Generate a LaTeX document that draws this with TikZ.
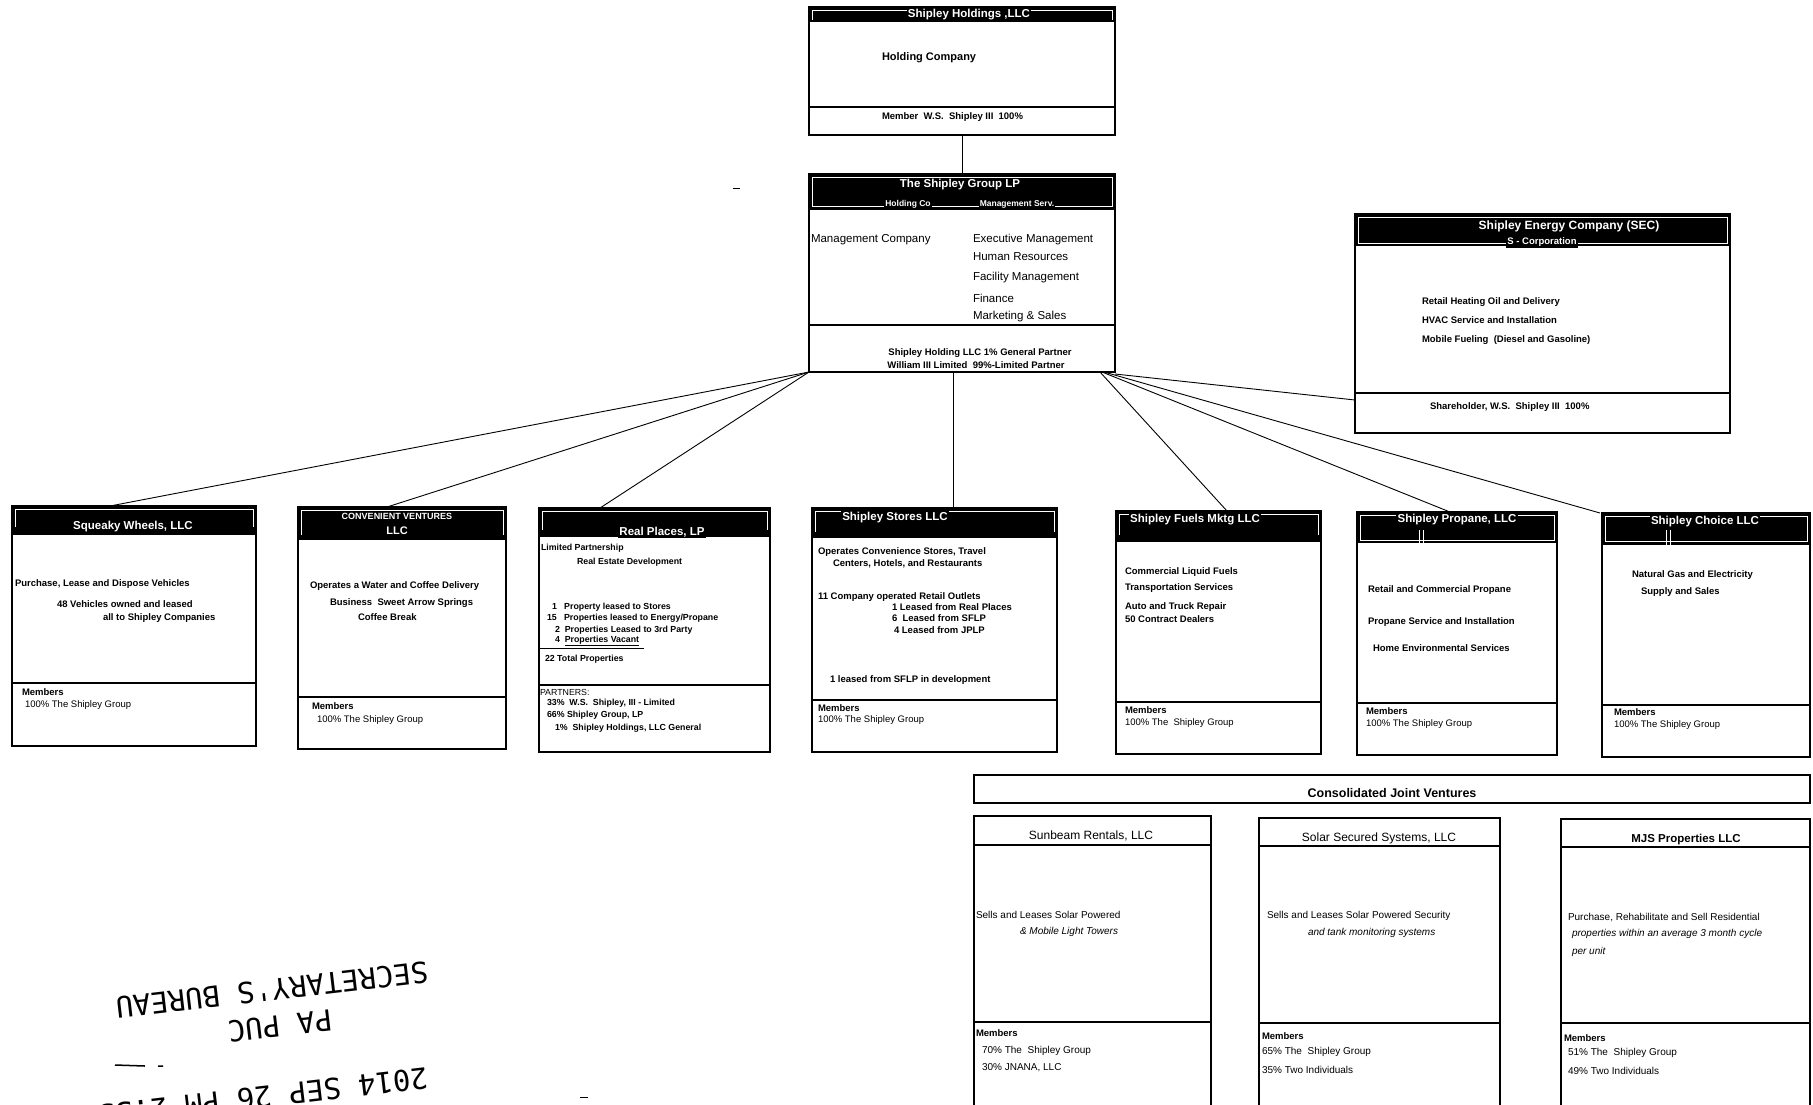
\documentclass[tikz,border=0pt]{standalone}
\usepackage{fontspec}
\setmainfont{Liberation Sans}
\newfontfamily\stampfont{DejaVu Sans Mono}
\newcommand\fsz[1]{\fontsize{#1}{#1}\selectfont}
\tikzset{
  obox/.style={draw=black, line width=1.4pt, inner sep=0pt, outer sep=0pt, anchor=north west},
  conn/.style={line width=0.9pt},
  divl/.style={line width=1.3pt},
  wfr/.style={draw=white, line width=0.7pt},
  ht/.style={text=white, fill=black, inner sep=1.2pt, font=\bfseries\fsz{11.5}},
  tx/.style={inner sep=0pt, outer sep=0pt, anchor=west, font=\bfseries\fsz{9.5}},
  tc/.style={tx, anchor=center},
  jt/.style={tx, font=\fsz{10}},
  ji/.style={tx, font=\itshape\fsz{10}},
  stamp/.style={inner sep=0pt, font=\stampfont\fsz{29}, rotate=186.7}
}
% name L T R B H D
\newcommand\orgbox[7]{%
  \fill[black] (#2,#3) rectangle (#4,#6);
  \draw[divl] (#2,#7) -- (#4,#7);
  \node[obox, minimum width={(#4-#2)*1pt}, minimum height={(#5-#3)*1pt}] (#1) at (#2,#3) {};
}
\newcommand\jvbox[7]{%
  \draw[divl] (#2,#6) -- (#4,#6);
  \draw[divl] (#2,#7) -- (#4,#7);
  \node[obox, minimum width={(#4-#2)*1pt}, minimum height={(#5-#3)*1pt}] (#1) at (#2,#3) {};
}
\newcommand\T[4][]{\node[tx,#1] (#2) at #3 {#4};}
\begin{document}
\begin{tikzpicture}[x=1pt,y=-1pt]
\useasboundingbox (0,0) rectangle (1813,1104);
\fill[white] (0,0) rectangle (1813,1104);
\clip (0,0) rectangle (1813,1104);

% ---------------- Shipley Holdings
\orgbox{holdings}{809}{7}{1115}{135}{22}{107}
\draw[wfr] (812,20) -- (812,10) -- (1112,10) -- (1112,20);
\node[ht] (holdingsh) at (969,15) {Shipley Holdings ,LLC};
\T[font=\bfseries\fsz{11}]{hc}{(882,58)}{Holding Company}
\T[font=\bfseries\fsz{9.5}]{hm}{(882,117)}{Member~ W.S.~ Shipley III~ 100\%}

% ---------------- Shipley Group
\orgbox{group}{809}{174}{1115}{372}{210}{325}
\draw[wfr] (812,177) rectangle (1112,206);
\node[ht] (grouph1) at (960,185) {The Shipley Group LP};
\node[ht, font=\bfseries\fsz{8.5}] (grouph2) at (908,204) {Holding Co};
\node[ht, font=\bfseries\fsz{8.5}] (grouph3) at (1017,204) {Management Serv.};
\T[font=\fsz{11.5}]{gb1}{(811,240)}{Management Company}
\T[font=\fsz{11.5}]{gb2}{(973,240)}{Executive Management}
\T[font=\fsz{11.5}]{gb3}{(973,257)}{Human Resources}
\T[font=\fsz{11.5}]{gb4}{(973,278)}{Facility Management}
\T[font=\fsz{11.5}]{gb5}{(973,298)}{Finance}
\T[font=\fsz{11.5}]{gb6}{(973,317)}{Marketing \& Sales}
\node[tc, font=\bfseries\fsz{9.5}] (gf1) at (980,353) {Shipley Holding LLC 1\% General Partner};
\node[tc, font=\bfseries\fsz{9.5}] (gf2) at (976,365) {William III Limited~ 99\%-Limited Partner};

% ---------------- Shipley Energy Company
\orgbox{sec}{1355}{214}{1730}{433}{246}{393}
\draw[wfr] (1358,217) rectangle (1727,243);
\node[ht, font=\bfseries\fsz{12}] (sech1) at (1569,226) {Shipley Energy Company (SEC)};
\node[ht, font=\bfseries\fsz{9.5}] (sech2) at (1542,242) {S - Corporation};
\T{sb1}{(1422,302)}{Retail Heating Oil and Delivery}
\T{sb2}{(1422,320)}{HVAC Service and Installation}
\T{sb3}{(1422,340)}{Mobile Fueling~ (Diesel and Gasoline)}
\T{sf1}{(1430,407)}{Shareholder, W.S.~ Shipley III~ 100\%}

% ---------------- Squeaky Wheels
\orgbox{squeaky}{12}{506}{256}{746}{535}{683}
\draw[wfr] (15,527) -- (15,509) -- (253,509) -- (253,527);
\node[ht] (squeakyh) at (133,527) {Squeaky Wheels, LLC};
\T{qb1}{(15,584)}{Purchase, Lease and Dispose Vehicles}
\T{qb2}{(57,604)}{48 Vehicles owned and leased}
\T{qb3}{(103,618)}{all to Shipley Companies}
\T{qf1}{(22,692)}{Members}
\T[font=\fsz{9.5}]{qf2}{(25,705)}{100\% The Shipley Group}

% ---------------- Convenient Ventures
\orgbox{conv}{298}{507}{506}{749}{540}{697}
\draw[wfr] (301,535) -- (301,510) -- (503,510) -- (503,535);
\node[ht, font=\bfseries\fsz{9}] (convh1) at (397,516) {CONVENIENT VENTURES};
\node[ht, font=\bfseries\fsz{11}] (convh2) at (397,531) {LLC};
\T{cb1}{(310,586)}{Operates a Water and Coffee Delivery}
\T{cb2}{(330,603)}{Business~ Sweet Arrow Springs}
\T{cb3}{(358,617)}{Coffee Break}
\T{cf1}{(312,706)}{Members}
\T[font=\fsz{9.5}]{cf2}{(317,720)}{100\% The Shipley Group}

% ---------------- Real Places
\orgbox{real}{539}{508}{770}{752}{537}{685}
\draw[wfr] (542,530) -- (542,511) -- (767,511) -- (767,530);
\node[ht] (realh) at (662,532) {Real Places, LP};
\T[font=\bfseries\fsz{8.8}]{rb1}{(541,548)}{Limited Partnership}
\T[font=\bfseries\fsz{8.8}]{rb2}{(577,562)}{Real Estate Development}
\T[font=\bfseries\fsz{8.8}]{rb3}{(552,607)}{1~~ Property leased to Stores}
\T[font=\bfseries\fsz{8.8}]{rb4}{(547,618)}{15~~ Properties leased to Energy/Propane}
\T[font=\bfseries\fsz{8.8}]{rb5}{(555,630)}{2~ Properties Leased to 3rd Party}
\T[font=\bfseries\fsz{8.8}]{rb6}{(555,641)}{4~ \underline{Properties Vacant}}
\draw[line width=1pt] (real.west |- 0,648) -- (644,648);
\T[font=\bfseries\fsz{8.8}]{rb7}{(545,659)}{22 Total Properties}
\T[font=\fsz{8.8}]{rf1}{(540,692)}{PARTNERS:}
\T[font=\bfseries\fsz{8.8}]{rf2}{(547,703)}{33\%~ W.S.~ Shipley, III - Limited}
\T[font=\bfseries\fsz{8.8}]{rf3}{(547,715)}{66\% Shipley Group, LP}
\T[font=\bfseries\fsz{8.8}]{rf4}{(555,728)}{1\%~ Shipley Holdings, LLC General}

% ---------------- Shipley Stores
\orgbox{stores}{812}{508}{1057}{752}{538}{700}
\draw[wfr] (815,532) -- (815,511) -- (1054,511) -- (1054,532);
\node[ht] (storesh) at (895,518) {Shipley Stores LLC};
\T{tb1}{(818,552)}{Operates Convenience Stores, Travel}
\T{tb2}{(833,564)}{Centers, Hotels, and Restaurants}
\T{tb3}{(818,597)}{11 Company operated Retail Outlets}
\T{tb4}{(892,607)}{1 Leased from Real Places}
\T{tb5}{(892,618)}{6~ Leased from SFLP}
\T{tb6}{(894,630)}{4 Leased from JPLP}
\T{tb7}{(830,680)}{1 leased from SFLP in development}
\T{tf1}{(818,708)}{Members}
\T[font=\fsz{9.5}]{tf2}{(818,720)}{100\% The Shipley Group}

% ---------------- Shipley Fuels
\orgbox{fuels}{1116}{511}{1321}{754}{542}{702}
\draw[wfr] (1119,535) -- (1119,514) -- (1318,514) -- (1318,535);
\node[ht] (fuelsh) at (1195,520) {Shipley Fuels Mktg LLC};
\T{fb1}{(1125,572)}{Commercial Liquid Fuels}
\T{fb2}{(1125,588)}{Transportation Services}
\T{fb3}{(1125,607)}{Auto and Truck Repair}
\T{fb4}{(1125,619)}{50 Contract Dealers}
\T{ff1}{(1125,710)}{Members}
\T[font=\fsz{9.5}]{ff2}{(1125,723)}{100\% The~ Shipley Group}

% ---------------- Shipley Propane
\orgbox{propane}{1357}{512}{1557}{755}{543}{703}
\draw[wfr] (1360,515) rectangle (1554,540);
\draw[wfr] (1419,530) -- (1419,543) (1423,530) -- (1423,543);
\node[ht] (propaneh) at (1457,520) {Shipley Propane, LLC};
\T{pb1}{(1368,590)}{Retail and Commercial Propane}
\T{pb2}{(1368,622)}{Propane Service and Installation}
\T{pb3}{(1373,648)}{Home Environmental Services}
\T{pf1}{(1366,711)}{Members}
\T[font=\fsz{9.5}]{pf2}{(1366,724)}{100\% The Shipley Group}

% ---------------- Shipley Choice
\orgbox{choice}{1602}{513}{1810}{757}{545}{705}
\draw[wfr] (1605,516) rectangle (1807,541);
\draw[wfr] (1666,530) -- (1666,545) (1670,530) -- (1670,545);
\node[ht] (choiceh) at (1705,522) {Shipley Choice LLC};
\T{chb1}{(1632,575)}{Natural Gas and Electricity}
\T{chb2}{(1641,592)}{Supply and Sales}
\T{chf1}{(1614,712)}{Members}
\T[font=\fsz{9.5}]{chf2}{(1614,725)}{100\% The Shipley Group}

% ---------------- Consolidated Joint Ventures
\node[obox, minimum width=836pt, minimum height=28pt] (cjv) at (974,775) {};
\node[tc, font=\bfseries\fsz{12.5}] (cjvt) at (1392,793) {Consolidated Joint Ventures};

\jvbox{sunbeam}{974}{816}{1211}{1115}{845}{1022}
\node[tc, font=\fsz{12}] (sunh) at (1091,836) {Sunbeam Rentals, LLC};
\T[jt]{ub1}{(976,915)}{Sells and Leases Solar Powered}
\T[ji]{ub2}{(1020,932)}{\& Mobile Light Towers}
\T{uf1}{(976,1033)}{Members}
\T[jt]{uf2}{(982,1051)}{70\% The~ Shipley Group}
\T[jt]{uf3}{(982,1068)}{30\% JNANA, LLC}

\jvbox{solar}{1259}{818}{1500}{1115}{846}{1023}
\node[tc, font=\fsz{12}] (solh) at (1379,838) {Solar Secured Systems, LLC};
\T[jt]{ob1}{(1267,916)}{Sells and Leases Solar Powered Security}
\T[ji]{ob2}{(1308,933)}{and tank monitoring systems}
\T{of1}{(1262,1036)}{Members}
\T[jt]{of2}{(1262,1052)}{65\% The~ Shipley Group}
\T[jt]{of3}{(1262,1070)}{35\% Two Individuals}

\jvbox{mjs}{1561}{819}{1810}{1115}{847}{1023}
\node[tc, font=\bfseries\fsz{11.5}] (mjsh) at (1686,840) {MJS Properties LLC};
\T[jt]{mb1}{(1568,918)}{Purchase, Rehabilitate and Sell Residential}
\T[ji]{mb2}{(1572,934)}{properties within an average 3 month cycle}
\T[ji]{mb3}{(1572,952)}{per unit}
\T{mf1}{(1564,1038)}{Members}
\T[jt]{mf2}{(1568,1053)}{51\% The~ Shipley Group}
\T[jt]{mf3}{(1568,1071)}{49\% Two Individuals}

% ---------------- connectors
\draw[conn] (holdings.south) -- (group.north);
\draw[conn] (group.south west) -- ([xshift=98pt]squeaky.north west);
\draw[conn] (group.south west) -- ([xshift=89pt]conv.north west);
\draw[conn] (group.south west) -- ([xshift=61pt]real.north west);
\draw[conn] ([xshift=144pt]group.south west) -- ([xshift=141pt]stores.north west);
\draw[conn] ([xshift=-15pt]group.south east) -- ([xshift=111pt]fuels.north west);
\draw[conn] ([xshift=-13pt]group.south east) -- ([xshift=93pt]propane.north west);
\draw[conn] ([xshift=-11pt]group.south east) -- ([xshift=-2pt]choice.north west);
\draw[conn] ([yshift=-2pt]group.south east) -- ([yshift=-186pt]sec.north west);

% ---------------- stamp
\node[stamp] (st1) at (272,990) {SECRETARY'S BUREAU};
\node[stamp] (st2) at (280,1026) {PA PUC};
\node[stamp] (st3) at (263,1097) {2014 SEP 26 PM 2:33};
\draw[line width=1.5pt] (115,1065) -- (145,1066) (158,1066) -- (163,1066);
\draw[line width=1pt] (733,188) -- (740,188);
\draw[line width=1pt] (580,1097) -- (588,1097);
\end{tikzpicture}
\end{document}
